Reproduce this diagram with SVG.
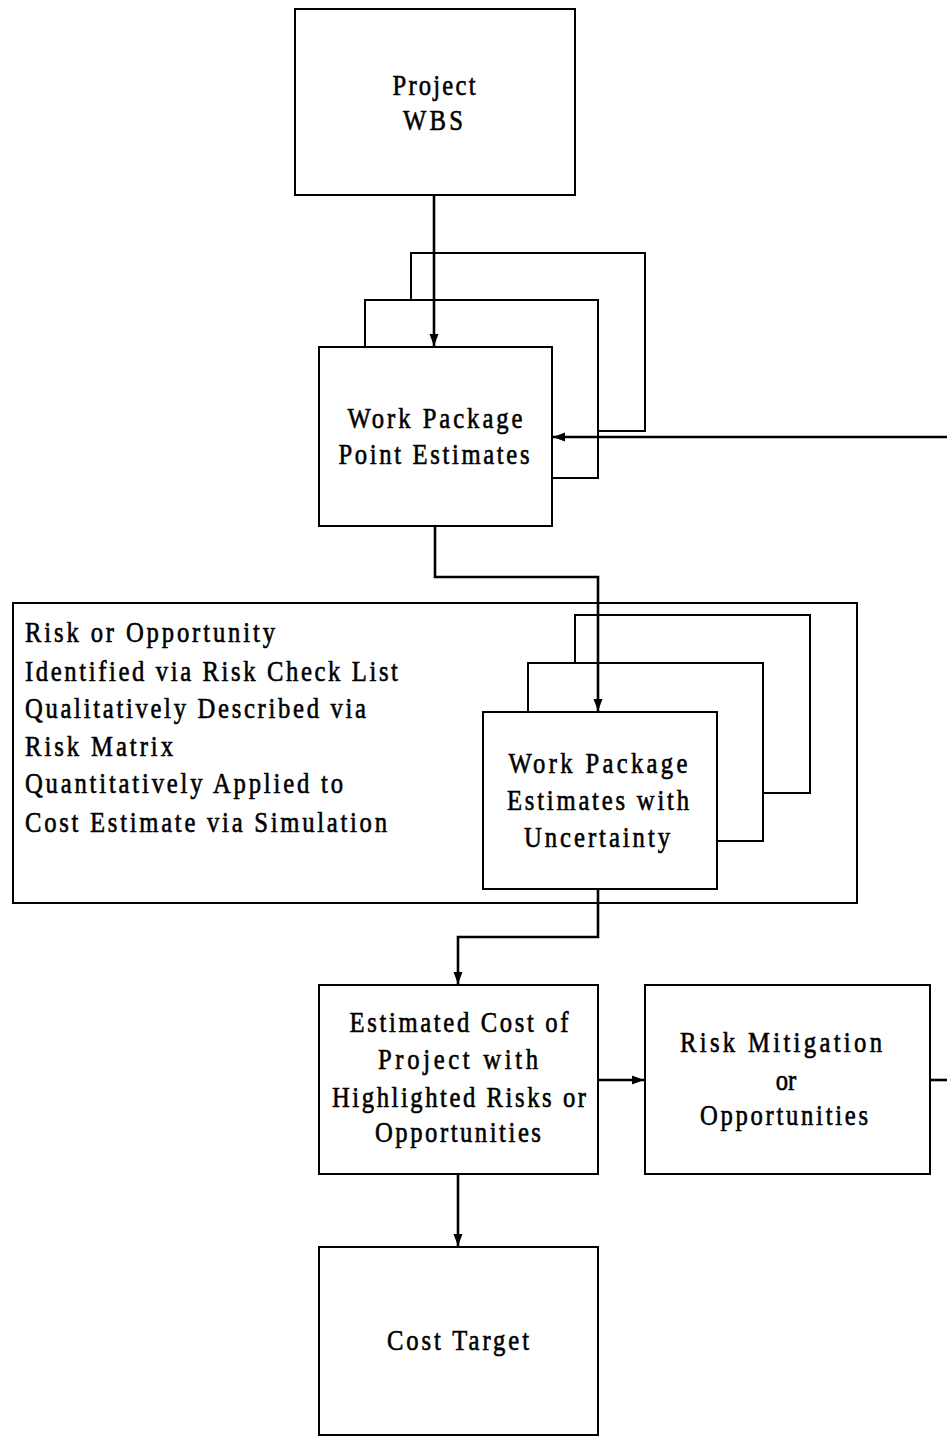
<svg xmlns="http://www.w3.org/2000/svg" width="947" height="1437" viewBox="0 0 947 1437">
  <style>
    .box { fill: #ffffff; stroke: #000000; stroke-width: 2; }
    .back { fill: none; stroke: #000000; stroke-width: 2; stroke-linejoin: miter; }
    .wire { fill: none; stroke: #000000; stroke-width: 2.6; stroke-linejoin: miter; }
    .lbl { font-family: "Liberation Serif", "Times New Roman", serif; font-size: 29px; fill: #000000; stroke: #000000; stroke-width: 0.6; }
    .c { text-anchor: middle; }
  </style>
  <defs>
    <marker id="head" markerUnits="userSpaceOnUse" markerWidth="13" markerHeight="13" viewBox="0 0 13 13" refX="12" refY="6.5" orient="auto">
      <path d="M0,2 L12,6.5 L0,11 Z" fill="#000000"/>
    </marker>
  </defs>

  <rect width="947" height="1437" fill="#ffffff"/>

  <!-- labels are set in a narrowed serif: each text is squeezed to 85% width -->

  <!-- outer frame around the uncertainty stage -->
  <g id="risk-frame">
    <rect class="box" x="13" y="603" width="844" height="300"/>
    <g transform="scale(0.85,1)">
      <text class="lbl" x="29.4" y="642" textLength="294.1">Risk or Opportunity</text>
      <text class="lbl" x="29.4" y="681" textLength="438.8">Identified via Risk Check List</text>
      <text class="lbl" x="29.4" y="718" textLength="401.2">Qualitatively Described via</text>
      <text class="lbl" x="29.4" y="756" textLength="174.1">Risk Matrix</text>
      <text class="lbl" x="29.4" y="793" textLength="374.1">Quantitatively Applied to</text>
      <text class="lbl" x="29.4" y="832" textLength="425.9">Cost Estimate via Simulation</text>
    </g>
  </g>

  <g id="project-wbs">
    <rect class="box" x="295" y="9" width="280" height="186"/>
    <g transform="scale(0.85,1)">
      <text class="lbl c" x="510.6" y="95" textLength="97.6">Project</text>
      <text class="lbl c" x="509.4" y="130" textLength="70.6">WBS</text>
    </g>
  </g>

  <g id="point-estimates">
    <!-- stacked sheets behind the front card -->
    <path class="back" d="M411,300 V253 H645 V431 H598"/>
    <path class="back" d="M365,347 V300 H598 V478 H552"/>
    <rect class="box" x="319" y="347" width="233" height="179"/>
    <g transform="scale(0.85,1)">
      <text class="lbl c" x="511.8" y="428" textLength="205.9">Work Package</text>
      <text class="lbl c" x="510.6" y="464" textLength="224.7">Point Estimates</text>
    </g>
  </g>

  <g id="estimates-uncertainty">
    <path class="back" d="M575,663 V615 H810 V793 H763"/>
    <path class="back" d="M528,712 V663 H763 V841 H717"/>
    <rect class="box" x="483" y="712" width="234" height="177"/>
    <g transform="scale(0.85,1)">
      <text class="lbl c" x="703.5" y="773" textLength="210.6">Work Package</text>
      <text class="lbl c" x="703.5" y="810" textLength="214.1">Estimates with</text>
      <text class="lbl c" x="702.4" y="847" textLength="171.8">Uncertainty</text>
    </g>
  </g>

  <g id="estimated-cost">
    <rect class="box" x="319" y="985" width="279" height="189"/>
    <g transform="scale(0.85,1)">
      <text class="lbl c" x="540" y="1032" textLength="257.6">Estimated Cost of</text>
      <text class="lbl c" x="538.8" y="1069" textLength="188.2">Project  with</text>
      <text class="lbl c" x="540" y="1107" textLength="298.8">Highlighted Risks or</text>
      <text class="lbl c" x="538.8" y="1142" textLength="195.3">Opportunities</text>
    </g>
  </g>

  <g id="risk-mitigation">
    <rect class="box" x="645" y="985" width="285" height="189"/>
    <g transform="scale(0.85,1)">
      <text class="lbl c" x="918.8" y="1052" textLength="237.6">Risk Mitigation</text>
      <text class="lbl c" x="924.7" y="1090">or</text>
      <text class="lbl c" x="922.4" y="1125" textLength="197.6">Opportunities</text>
    </g>
  </g>

  <g id="cost-target">
    <rect class="box" x="319" y="1247" width="279" height="188"/>
    <g transform="scale(0.85,1)">
      <text class="lbl c" x="538.8" y="1350" textLength="167.1">Cost Target</text>
    </g>
  </g>

  <g id="connectors">
    <path class="wire" d="M434,195 V346" marker-end="url(#head)"/>
    <path class="wire" d="M947,437 H553" marker-end="url(#head)"/>
    <path class="wire" d="M435,526 V577 H598 V711" marker-end="url(#head)"/>
    <path class="wire" d="M598,889 V937 H458 V984" marker-end="url(#head)"/>
    <path class="wire" d="M598,1080 H644" marker-end="url(#head)"/>
    <path class="wire" d="M930,1080 H947"/>
    <path class="wire" d="M458,1174 V1246" marker-end="url(#head)"/>
  </g>
</svg>
